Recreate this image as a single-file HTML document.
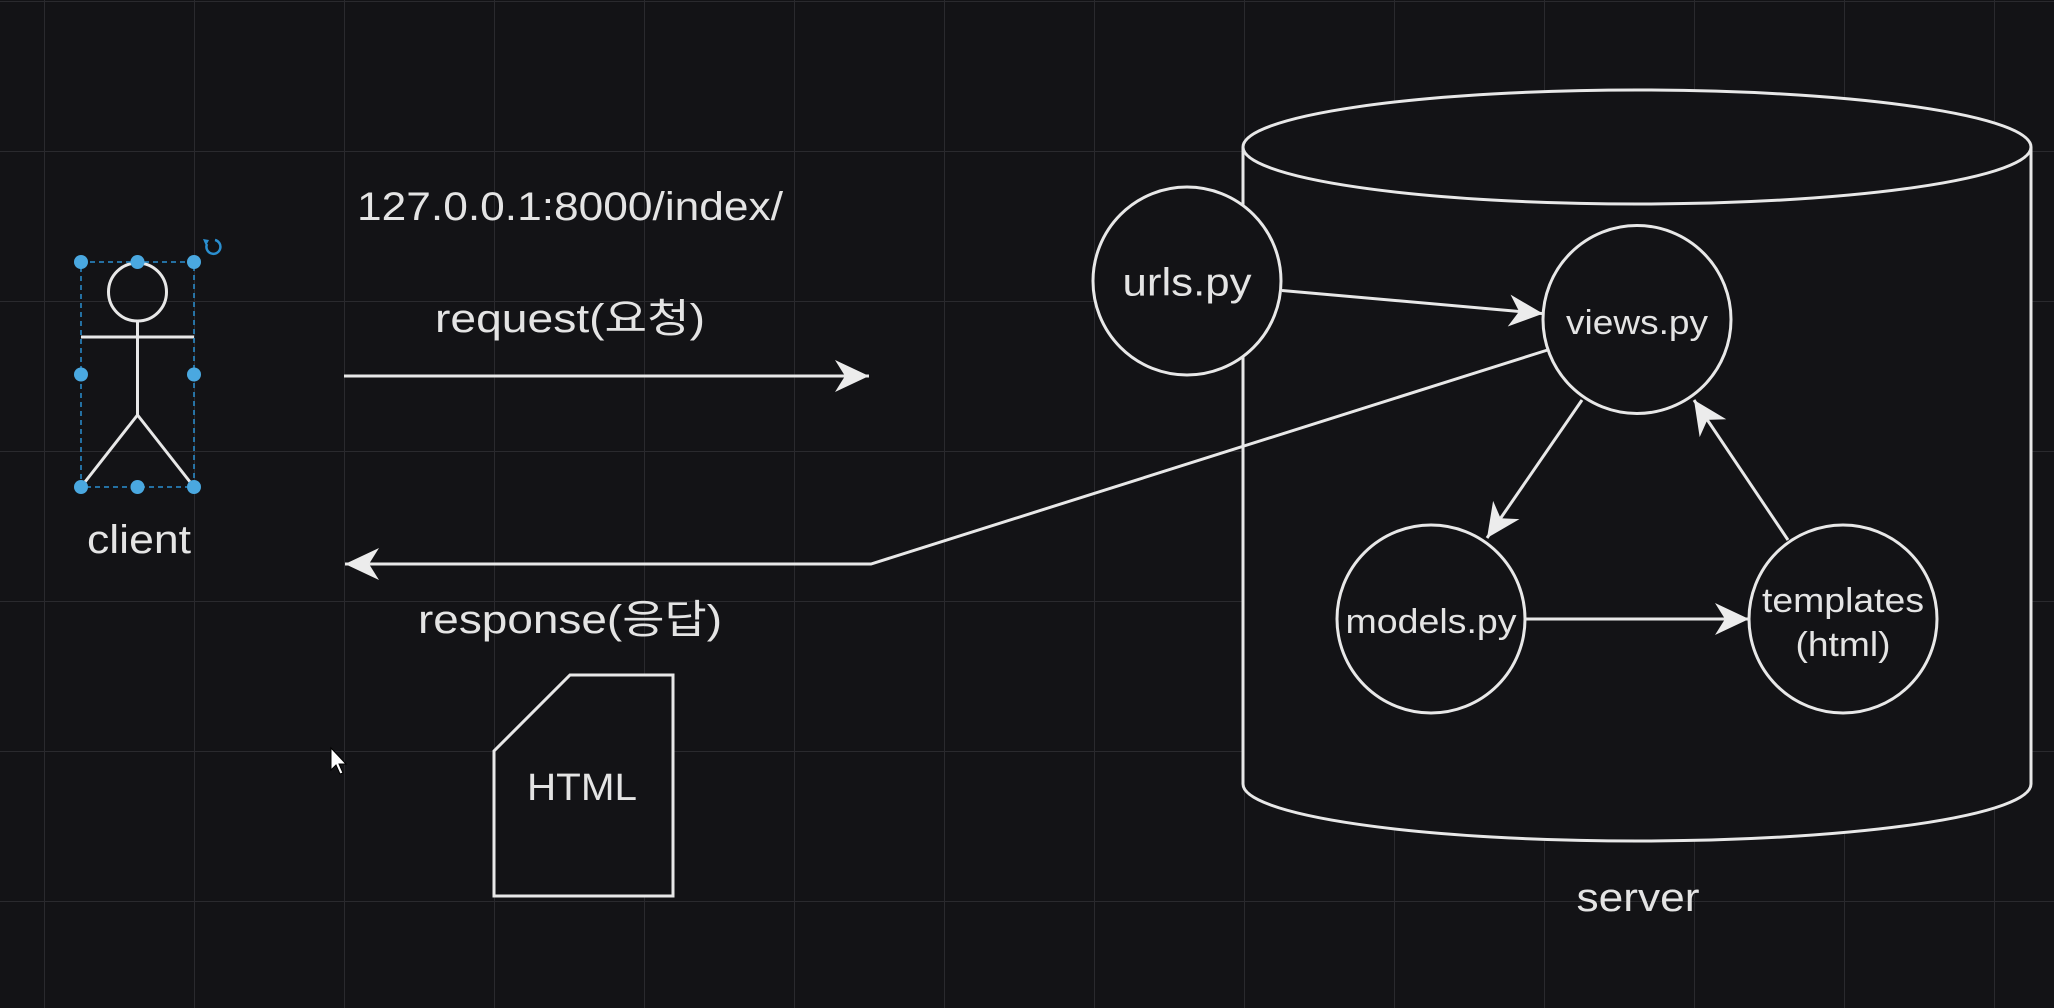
<!DOCTYPE html>
<html><head><meta charset="utf-8"><style>
html,body{margin:0;padding:0;background:#131316;}
svg{display:block}
text{font-family:"Liberation Sans","Noto Sans CJK KR",sans-serif;fill:#e4e4e4;}
</style></head><body>
<svg width="2054" height="1008" viewBox="0 0 2054 1008" xmlns="http://www.w3.org/2000/svg">
<defs>
<marker id="a" markerUnits="userSpaceOnUse" markerWidth="40" markerHeight="40" viewBox="-36 -18 40 36" refX="0" refY="0" orient="auto">
<path d="M0,0 L-34,-16 L-24,0 L-34,16 Z" fill="#ececec"/>
</marker>
<pattern id="g" width="150" height="150" patternUnits="userSpaceOnUse" x="44" y="1">
<path d="M0,0 H150 M0,0 V150" stroke="#2a2a2e" stroke-width="2" fill="none"/>
</pattern>
</defs>
<rect width="2054" height="1008" fill="#131316"/>
<rect width="2054" height="1008" fill="url(#g)"/>
<g stroke="#e8e8e8" stroke-width="3" fill="none">
<!-- stick figure -->
<circle cx="137.5" cy="292" r="29"/>
<line x1="137.5" y1="321" x2="137.5" y2="415"/>
<line x1="81" y1="337" x2="194" y2="337"/>
<line x1="137.5" y1="415" x2="81" y2="487"/>
<line x1="137.5" y1="415" x2="194" y2="487"/>
<!-- cylinder -->
<path d="M1243,147 V784 A394,57 0 0 0 2031,784 V147" fill="#131316"/>
<ellipse cx="1637" cy="147" rx="394" ry="57" fill="#131316"/>
<!-- HTML doc -->
<path d="M570,675 H673 V896 H494 V751 Z" fill="#131316"/>
<!-- arrows -->
<line x1="344" y1="376" x2="869" y2="376" marker-end="url(#a)"/>
<polyline points="1547.6,350 871,564 345,564" marker-end="url(#a)"/>
<line x1="1282" y1="290.5" x2="1543" y2="313.6" marker-end="url(#a)"/>
<line x1="1582" y1="400" x2="1487" y2="538" marker-end="url(#a)"/>
<line x1="1526" y1="619" x2="1749" y2="619" marker-end="url(#a)"/>
<line x1="1788" y1="540" x2="1694" y2="400" marker-end="url(#a)"/>
<!-- circles -->
<circle cx="1187" cy="281" r="94" fill="#131316"/>
<circle cx="1637" cy="319.5" r="94"/>
<circle cx="1431" cy="619" r="94" fill="#131316"/>
<circle cx="1843" cy="619" r="94" fill="#131316"/>
</g>
<!-- selection -->
<rect x="81" y="262" width="113" height="225" fill="none" stroke="#2a8fd0" stroke-width="1.5" stroke-dasharray="5,4"/>
<g fill="#4aa8e0">
<circle cx="81" cy="262" r="7"/><circle cx="137.5" cy="262" r="7"/><circle cx="194" cy="262" r="7"/>
<circle cx="81" cy="374.5" r="7"/><circle cx="194" cy="374.5" r="7"/>
<circle cx="81" cy="487" r="7"/><circle cx="137.5" cy="487" r="7"/><circle cx="194" cy="487" r="7"/>
</g>
<path d="M215,240 A7,7 0 1 1 207,244" fill="none" stroke="#2a8fd0" stroke-width="2.5"/>
<path d="M203,239 L209,240 L206,246 Z" fill="#2a8fd0"/>
<!-- cursor -->
<path d="M331,748 L331,770 L336,765 L340,774 L343,773 L339,764 L346,764 Z" fill="#fff" stroke="#000" stroke-width="1"/>
<!-- text -->
<g text-anchor="middle" dominant-baseline="central">
<text x="570" y="207" font-size="40" textLength="426" lengthAdjust="spacingAndGlyphs">127.0.0.1:8000/index/</text>
<text x="570" y="319" font-size="40" textLength="270" lengthAdjust="spacingAndGlyphs">request(요청)</text>
<text x="570" y="620" font-size="40" textLength="304" lengthAdjust="spacingAndGlyphs">response(응답)</text>
<text x="139" y="540" font-size="40" textLength="104" lengthAdjust="spacingAndGlyphs">client</text>
<text x="582" y="788" font-size="38" textLength="110" lengthAdjust="spacingAndGlyphs">HTML</text>
<text x="1187" y="283" font-size="39" textLength="129" lengthAdjust="spacingAndGlyphs">urls.py</text>
<text x="1637" y="323" font-size="34" textLength="142" lengthAdjust="spacingAndGlyphs">views.py</text>
<text x="1431" y="622" font-size="34" textLength="171" lengthAdjust="spacingAndGlyphs">models.py</text>
<text x="1843" y="601" font-size="34" textLength="162" lengthAdjust="spacingAndGlyphs">templates</text>
<text x="1843" y="645" font-size="34" textLength="95" lengthAdjust="spacingAndGlyphs">(html)</text>
<text x="1638" y="898" font-size="40" textLength="123" lengthAdjust="spacingAndGlyphs">server</text>
</g>
</svg>
</body></html>
